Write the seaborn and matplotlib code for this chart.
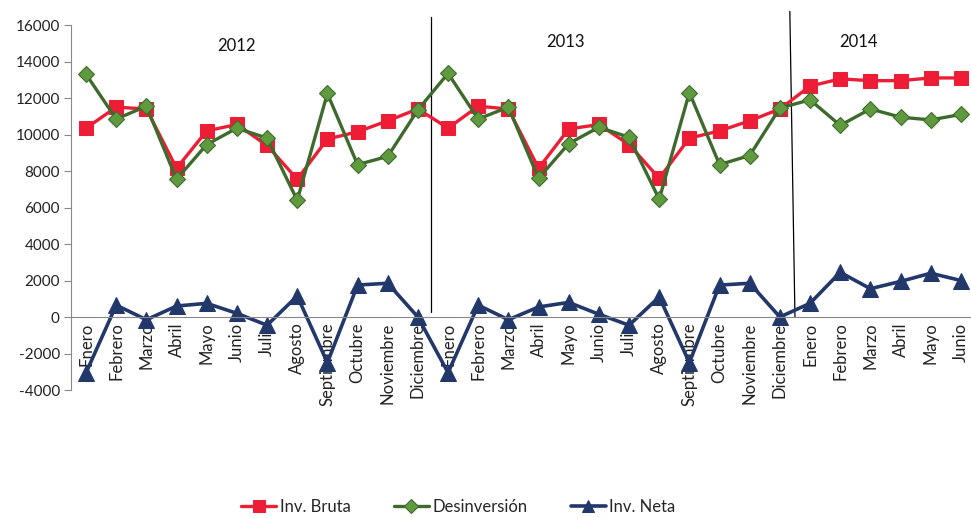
import seaborn as sns
import matplotlib.pyplot as plt
import numpy as np

meses = ['Enero', 'Febrero', 'Marzo', 'Abril', 'Mayo', 'Junio', 'Julio', 'Agosto',
         'Septiembre', 'Octubre', 'Noviembre', 'Diciembre'] * 2 + \
        ['Enero', 'Febrero', 'Marzo', 'Abril', 'Mayo', 'Junio']
anios = ['2012', '2013', '2014']

inv_bruta = [10350, 11500, 11400, 8150, 10200, 10550, 9400, 7550, 9750, 10150, 10750, 11400,
             10350, 11550, 11400, 8150, 10300, 10550, 9450, 7600, 9800, 10200, 10750, 11400,
             12650, 13050, 12950, 12950, 13100, 13100]
desinversion = [13300, 10850, 11550, 7550, 9450, 10350, 9800, 6400, 12250, 8350, 8800, 11350,
                13350, 10850, 11500, 7600, 9500, 10400, 9850, 6450, 12300, 8350, 8850, 11450,
                11900, 10500, 11400, 10950, 10800, 11100]
inv_neta = [-3050, 650, -150, 600, 750, 200, -450, 1150, -2500, 1750, 1850, 0,
            -3050, 650, -150, 550, 800, 150, -450, 1100, -2500, 1750, 1850, 0,
            750, 2450, 1550, 1950, 2400, 2000]

C_RED = '#EE1D36'
C_GREEN_LINE = '#3F6A2D'
C_GREEN_FILL = '#5F9A3F'
C_NAVY = '#22386A'

sns.set_theme(style='white')
plt.rcParams['font.family'] = ['Lato', 'DejaVu Sans']

fig = plt.figure(figsize=(9.71, 5.18), dpi=100)
ax = fig.add_axes([0.0731, 0.2471, 0.932, 0.7046])

x = np.arange(len(meses))
sns.lineplot(x=x, y=inv_bruta, ax=ax, color=C_RED, linewidth=2.4, marker='s', markersize=10,
             markeredgecolor=C_RED, markerfacecolor=C_RED, label='Inv. Bruta')
sns.lineplot(x=x, y=desinversion, ax=ax, color=C_GREEN_LINE, linewidth=2.4, marker='D', markersize=8,
             markeredgecolor=C_GREEN_LINE, markerfacecolor=C_GREEN_FILL, markeredgewidth=0.8,
             label='Desinversión')
sns.lineplot(x=x, y=inv_neta, ax=ax, color=C_NAVY, linewidth=2.6, marker='^', markersize=11,
             markeredgecolor=C_NAVY, markerfacecolor=C_NAVY, label='Inv. Neta')

handles, labels = ax.get_legend_handles_labels()
ax.get_legend().remove()

# ejes: el eje x cruza en cero
for s in ['top', 'right']:
    ax.spines[s].set_visible(False)
ax.spines['bottom'].set_position(('data', 0))
ax.spines['bottom'].set_color('#888888')
ax.spines['left'].set_color('#888888')
ax.spines['bottom'].set_linewidth(0.8)
ax.spines['left'].set_linewidth(0.8)

ax.set_xlim(-0.5, len(meses) - 0.5)
ax.set_ylim(-4000, 16000)
ax.set_yticks(np.arange(-4000, 16001, 2000))
ax.set_yticklabels([str(v) for v in range(-4000, 16001, 2000)], fontsize=11, color='#222222')

ax.set_xticks(x)
ax.set_xticklabels(meses, fontsize=12, color='#222222')
ax.set_xticks(np.arange(-0.5, len(meses), 1), minor=True)
ax.tick_params(axis='x', which='major', length=0, pad=4)
ax.tick_params(axis='x', which='minor', length=5, color='#888888', width=0.8, direction='out')
ax.tick_params(axis='y', which='major', length=5, color='#888888', width=0.8, direction='out',
               left=True, pad=3)
plt.setp(ax.get_xticklabels(), rotation=90, va='top', ha='center', rotation_mode='default')
ax.set_axisbelow(True)
ax.grid(False)

# separadores de años
ax.plot([11.45, 11.45], [16450, 250], color='black', linewidth=0.9, clip_on=False, zorder=1)
ax.plot([23.33, 23.5], [16750, 0], color='black', linewidth=0.9, clip_on=False, zorder=1)

for pos, yy, anio in zip([4.97, 15.9, 25.6], [14850, 15070, 15070], anios):
    ax.text(pos, yy, anio, ha='center', va='center', fontsize=12, color='#111111')

fig.legend(handles, labels, loc='center', bbox_to_anchor=(0.472, 0.022), ncol=3, frameon=False,
           fontsize=12, handlelength=2.1, handletextpad=0.2, columnspacing=2.6, numpoints=1,
           markerscale=0.85)

fig.savefig('out.png', dpi=100)
